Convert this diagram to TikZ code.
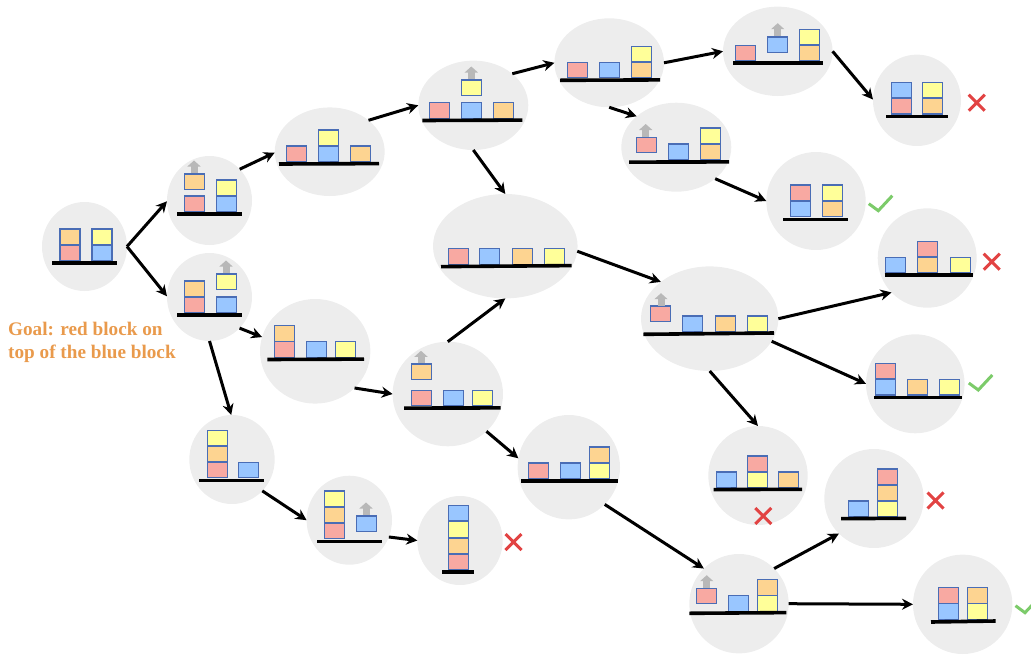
\documentclass[tikz,border=0pt]{standalone}
\usepackage{fontspec}
\setmainfont{Liberation Serif}
\usetikzlibrary{arrows.meta,shapes.geometric}
\definecolor{stateg}{HTML}{EDEDED}
\definecolor{edgeb}{HTML}{4A6DB5}
\definecolor{redb}{HTML}{F8A9A2}
\definecolor{blueb}{HTML}{99C6FF}
\definecolor{orangeb}{HTML}{FDD491}
\definecolor{yellowb}{HTML}{FFFF99}
\definecolor{liftg}{HTML}{B8B8B8}
\definecolor{crossr}{HTML}{E24343}
\definecolor{tickg}{HTML}{7CCB6A}
\definecolor{goalo}{HTML}{E99A4C}
\tikzset{
  statecircle/.style={ellipse, fill=stateg, inner sep=0pt, outer sep=0pt},
  blockbox/.style={rectangle, draw=edgeb, line width=1.1pt, inner sep=0pt, outer sep=0pt, minimum width=20pt, minimum height=15.5pt, anchor=south west, xshift=0.5pt, yshift=0.5pt},
  tableline/.style={black, line width=3.6pt},
  flowarrow/.style={black, line width=3pt, -{Stealth[length=11pt,width=11pt]}},
  liftarrow/.style={liftg, line width=7pt, -{Triangle[length=6pt,width=13pt]}},
  crossmark/.style={crossr, line width=3pt},
  tickmark/.style={tickg, line width=3pt},
  goaltext/.style={goalo, font=\bfseries\fontsize{19.2}{22.7}\selectfont, align=left, inner sep=0pt, anchor=west}
}
\begin{document}
\begin{tikzpicture}[x=1pt,y=-1pt]
\clip (0,0) rectangle (1031,654);

\foreach \n/\x/\y/\rx/\ry in {
  s0/84.5/246.5/42.5/44.5, s1/209.5/200.5/42.5/44.5, s2/209.5/297/42.5/44,
  s3/329.7/151.7/55/44.3, s4/473.3/105.3/55/44.7, s5/609.2/62.8/54.8/44.5,
  s6/777.8/51.3/54.8/44.7, s7/917/100.3/44/45.7, s8/676.3/147.2/55/44.5,
  s9/816/201/49.7/49, s10/505.3/246.2/72.3/52.2, s11/709.7/318.7/68.7/52.3,
  s12/927.2/258/49.5/49.7, s13/915.3/383.8/49.3/49.5, s14/758/475.5/49.7/49.5,
  s15/874/498.5/49.7/49.5, s16/568.8/467.2/51.2/52.2, s17/739/603.7/49.7/49.7,
  s18/962.7/604.3/49.7/49.7, s19/315.2/351.3/55.2/52.3, s20/447.8/394/55.2/52.3,
  s21/232/459.5/42.7/44.5, s22/349.3/520.2/42.7/44.5, s23/460/540.5/42.7/44.5}
  \node[statecircle, minimum width=2*\rx pt, minimum height=2*\ry pt] (\n) at (\x,\y) {};

\foreach \col/\x/\y [count=\i] in {
  redb/59.5/261, orangeb/59.5/245, blueb/91.5/261, yellowb/91.5/245,
  redb/184/212, orangeb/184/190, blueb/216/212, yellowb/216/196,
  redb/184/313, orangeb/184/297, blueb/216/313, yellowb/216/290,
  redb/286/162, blueb/318/162, yellowb/318/146, orangeb/350/162,
  redb/429/118.7, blueb/461/118.7, yellowb/461/96, orangeb/493.3/118.7,
  redb/566.7/78.3, blueb/598.7/78.3, orangeb/631/78.3, yellowb/631/62.3,
  redb/735/61.3, blueb/767/53, orangeb/799.3/61.3, yellowb/799.3/45.3,
  redb/891/114.5, blueb/891/98.5, orangeb/922/114.5, yellowb/922/98.5,
  redb/635.7/153.3, blueb/667.7/160, orangeb/700/160, yellowb/700/144,
  blueb/789.7/217, redb/789.7/201, orangeb/822/217, yellowb/822/201,
  redb/447.7/264.7, blueb/479.3/264.7, orangeb/511.7/264.7, yellowb/544/264.7,
  redb/650.3/322, blueb/682.3/332, orangeb/714.7/332, yellowb/746.7/332,
  blueb/885/273.5, orangeb/917.3/273.5, redb/917.3/257.5, yellowb/949.7/273.5,
  blueb/875/395.5, redb/875/379.5, orangeb/907.3/395.5, yellowb/939.3/395.5,
  blueb/715.7/488, yellowb/747/488, redb/747/472, orangeb/778.3/488,
  blueb/848/517, yellowb/877.3/517, orangeb/877.3/501, redb/877.3/485,
  redb/528/479, blueb/559.7/479, yellowb/589/479, orangeb/589/463,
  redb/696.3/604.3, blueb/728/611.7, yellowb/757.3/611.7, orangeb/757.3/595.7,
  blueb/937.7/619.7, redb/937.7/603.7, yellowb/966.7/619.7, orangeb/966.7/603.7,
  redb/274.3/357.7, orangeb/274.3/341.7, blueb/306/357.7, yellowb/335.3/357.7,
  redb/410.7/406.3, orangeb/410.7/380, blueb/442.7/406.3, yellowb/472/406.3,
  redb/206.7/478.3, orangeb/206.7/462.3, yellowb/206.7/446.3, blueb/238.3/478.3,
  redb/323.7/539, orangeb/323.7/523, yellowb/323.7/507, blueb/355.7/532,
  redb/448.3/570, orangeb/448.3/554, yellowb/448.3/537.7, blueb/448.3/521.5}
  \node[blockbox, fill=\col] (blk\i) at (\x,\y) {};

\foreach \xa/\ya/\xb/\yb in {
  52/262.9/117/262.9, 177/214.2/242/214.2, 177/315.2/242/315.2, 279/164/379/163.6,
  422.3/120.5/522.3/120.1, 560/80.3/660/79.9, 733/63/823/63, 886/116.3/947.7/116.3,
  629/162.1/729/161.9, 783.3/219.3/847.7/219.3, 441/266.6/571.7/265.6, 643.3/334.3/774/333,
  884.7/275/972.7/275, 874.3/397.3/962.3/397.3, 713.7/489.6/802/489.3, 841/518.6/906/518.3,
  521/481/618/481, 689.3/613.3/786.3/612.6, 931/622/995.7/621, 267.3/359.5/364/359.1,
  404/408.1/500.7/407.9, 199/480.3/264/480.3, 317/541.3/382/541.3, 442.3/572/473.7/572}
  \draw[tableline] (\xa,\ya) -- (\xb,\yb);

\foreach \x/\y in {194/173, 226/273, 471.3/79, 777.7/35.7, 645.7/136.5, 421/363.3, 661/305.7, 706.7/587.7, 366/515}
  \draw[liftarrow] (\x,\y) -- (\x,\y-12.5);

\foreach \a/\b in {
  s0.0/s1.181, s0.0/s2.179, s1.46/s3.181, s2.-46/s19.165, s2.-90/s21.91,
  s3.39/s4.180, s4.39/s5.180, s4.-90/s10.90, s5.0/s6.180, s5.-90/s8.142,
  s6.0/s7.179, s8.-39/s9.180, s19.-43/s20.180, s20.90/s10.-90, s20.-44/s16.170,
  s10.-4/s11.143, s11.0/s12.224, s11.-20/s13.180, s11.-90/s14.90,
  s21.-46/s22.180, s22.-23/s23.180, s16.-46/s17.135, s17.45/s15.225, s17.0/s18.180}
  \draw[flowarrow] (\a) -- (\b);

\foreach \x/\y in {976.7/102.7, 991.7/261.7, 763.3/516, 935.5/500.5, 513.5/542}
  \draw[crossmark] (\x-8,\y-8) -- (\x+8,\y+8) (\x-8,\y+8) -- (\x+8,\y-8);

\foreach \x/\y in {878.3/210.7, 978.3/390, 1025/612.7}
  \draw[tickmark] (\x-9.5,\y-7) -- (\x,\y) -- (\x+14,\y-15);

\node[goaltext] (goal) at (8,342.5) {Goal: red block on\\top of the blue block};
\end{tikzpicture}
\end{document}
